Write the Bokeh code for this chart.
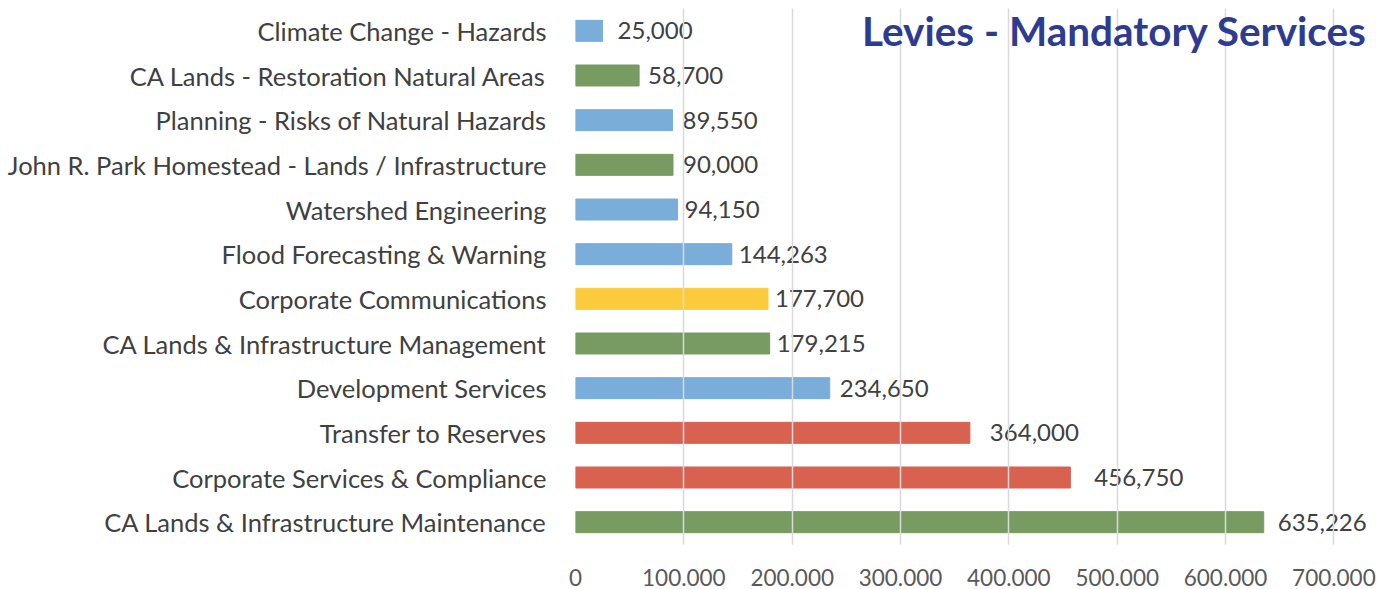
from bokeh.plotting import figure
from bokeh.models import ColumnDataSource, FactorRange, Range1d, Label, FixedTicker
from bokeh.core.properties import value
from bokeh.embed import file_html
from bokeh.resources import INLINE

# ---- data (top to bottom as shown) ----
categories = [
    "Climate Change - Hazards",
    "CA Lands - Restoration Natural Areas",
    "Planning - Risks of Natural Hazards",
    "John R. Park Homestead - Lands / Infrastructure",
    "Watershed Engineering",
    "Flood Forecasting & Warning",
    "Corporate Communications",
    "CA Lands & Infrastructure Management",
    "Development Services",
    "Transfer to Reserves",
    "Corporate Services & Compliance",
    "CA Lands & Infrastructure Maintenance",
]
values = [25000, 58700, 89550, 90000, 94150, 144263, 177700, 179215,
          234650, 364000, 456750, 635226]
groups = ["blue", "green", "blue", "green", "blue", "blue", "yellow", "green",
          "blue", "red", "red", "green"]
tick_values = [0, 100000, 200000, 300000, 400000, 500000, 600000, 700000]
tick_labels = ["0", "100.000", "200.000", "300.000", "400.000", "500.000",
               "600.000", "700.000"]
title_text = "Levies - Mandatory Services"

# ---- styles ----
palette = {"blue": "#7AADD9", "green": "#779B61", "yellow": "#FCCB3D", "red": "#D96150"}
label_nudge_px = [15, 9, 10, 10, 7, 7, 7, 7, 10, 20, 24, 14]
FONT = "Lato"
TEXT = "#404040"

src = ColumnDataSource(dict(
    cat=categories,
    val=values,
    color=[palette[g] for g in groups],
    txt=[f"{v:,}" for v in values],
    nudge=label_nudge_px,
))

p = figure(
    width=1388, height=589,
    y_range=FactorRange(factors=list(reversed(categories)), range_padding=0),
    x_range=Range1d(0, 743000),
    output_backend="svg", toolbar_location=None,
    min_border_left=575, min_border_right=8, min_border_top=8, min_border_bottom=45,
)
p.outline_line_color = None
p.background_fill_color = "white"

p.hbar(y="cat", right="val", left=0, height=0.47, color="color", source=src)

p.xaxis.ticker = FixedTicker(ticks=tick_values)
p.xaxis.major_label_overrides = {t: l for t, l in zip(tick_values, tick_labels)}
p.xaxis.axis_line_color = None
p.xaxis.major_tick_line_color = None
p.xaxis.minor_tick_line_color = None
p.xaxis.major_label_text_font = FONT
p.xaxis.major_label_text_font_size = "22.5px"
p.xaxis.major_label_text_color = "#595959"
p.xaxis.major_label_standoff = 18

p.yaxis.axis_line_color = None
p.yaxis.major_tick_line_color = None
p.yaxis.minor_tick_line_color = None
p.yaxis.major_label_text_font = FONT
p.yaxis.major_label_text_font_size = "25.5px"
p.yaxis.major_label_text_color = TEXT
p.yaxis.major_label_standoff = 23

p.ygrid.grid_line_color = None
p.xgrid.grid_line_color = "#D9D9D9"
p.xgrid.grid_line_width = 1.5
p.xgrid.level = "overlay"

labels = p.text(x="val", y="cat", text="txt", x_offset="nudge", source=src,
                text_font=value(FONT), text_font_size="24px", text_color=TEXT,
                text_baseline="middle", text_align="left")
labels.level = "overlay"

title = Label(
    x=700000, y=len(categories) - 0.5, x_offset=33,
    text=title_text, text_font=FONT, text_font_size="40.5px",
    text_font_style="bold", text_color="#2E3C8F",
    text_align="right", text_baseline="middle",
)
title.level = "overlay"
p.add_layout(title)

open("out.html", "w").write(file_html(p, INLINE))
